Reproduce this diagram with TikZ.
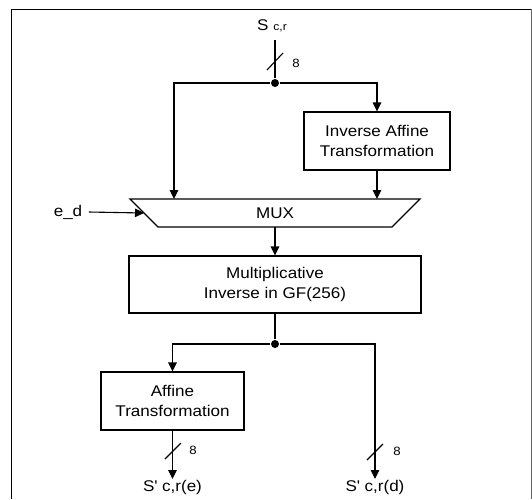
\documentclass[tikz,border=0pt]{standalone}
\usepackage{fontspec}
\setmainfont{Liberation Sans}[FakeStretch=1.1]
\usetikzlibrary{arrows.meta}
\begin{document}
\begin{tikzpicture}[x=1pt,y=-1pt,line width=1.1pt,
  >={Triangle[length=9pt,width=8.5pt]},
  txt/.style={font=\fontsize{15.5}{20}\selectfont, inner sep=1pt},
  box/.style={draw, align=center, txt, inner sep=0pt},
  small/.style={font=\fontsize{12}{14}\selectfont, inner sep=0pt},
  dot/.style={fill, circle, inner sep=0pt, minimum size=8pt}]
\useasboundingbox (0,0) rectangle (532,499);
% outer frame
\draw[line width=0.9pt] (11,499) -- (11,9) -- (531,9);
\draw[line width=0.6pt, black!60] (531,9) -- (531,499);

% input
\node[txt] (sin) at (272,26) {S {\fontsize{11}{12}\selectfont c,r}};
\coordinate (t0) at (275,40);
\node[dot] (d1) at (275,83) {};
\draw (t0) -- (d1);
\draw (267,70) -- (283,53);
\node[small] (w1) at (296,63) {8};

% inverse affine
\node[box, minimum width=146pt, minimum height=58pt] (inv) at (377,141) {Inverse Affine\\Transformation};

% MUX
\coordinate (mtl) at (130,199);
\coordinate (mtr) at (420,199);
\coordinate (mbr) at (392,227);
\coordinate (mbl) at (158,227);
\draw (mtl) -- (mtr) -- (mbr) -- (mbl) -- cycle;
\node[txt] (mux) at (275,213) {MUX};
\coordinate (mx1) at (174,199);
\coordinate (mx2) at (377,199);
\coordinate (muxb) at (275,227);

\draw[->] (d1) -| (mx1);
\draw[->] (d1) -| (inv.north);
\draw[->] (inv.south) -- (mx2);

% e_d
\node[txt] (ed) at (68,212) {e\_d};
\coordinate (edend) at (144,213);
\draw[->] (ed.east) ++(5,0) coordinate (eds) (eds) -- (edend);

% multiplicative inverse
\node[box, minimum width=292pt, minimum height=57pt] (mul) at (275,284.5) {Multiplicative\\Inverse in GF(256)};
\draw[->] (muxb) -- (mul.north);

\node[dot] (d2) at (275,344) {};
\draw (mul.south) -- (d2);

% affine
\node[box, minimum width=143pt, minimum height=58pt] (aff) at (172.5,401) {Affine\\Transformation};
\draw[->] (d2) -| (aff.north);

% outputs
\node[txt, anchor=north] (se) at (172.5,479) {S\textquotesingle\ c,r(e)};
\node[txt, anchor=north] (sd) at (375,479) {S\textquotesingle\ c,r(d)};
\draw[->] (aff.south) -- (se.north);
\draw[->] (d2) -| (sd.north);

\draw (165,459) -- (181,443);
\node[small] (w2) at (193,450) {8};
\draw (367,460) -- (383,444);
\node[small] (w3) at (397,451) {8};
\end{tikzpicture}
\end{document}
